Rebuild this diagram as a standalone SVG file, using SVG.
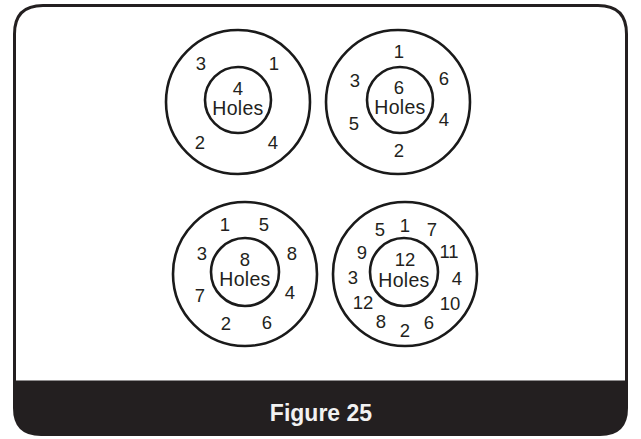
<svg xmlns="http://www.w3.org/2000/svg" width="641" height="439" viewBox="0 0 641 439">
<style>
.ring{fill:none;stroke:#1a1a1a;stroke-width:2.6}
.t{font-family:"Liberation Sans",Arial,sans-serif;font-size:18.5px;fill:#231f20;text-anchor:middle}
.h{font-size:19.5px;letter-spacing:0.3px}
.title{font-family:"Liberation Sans",Arial,sans-serif;font-size:23px;font-weight:bold;fill:#f2f2f2;text-anchor:middle}
</style>
<rect x="0" y="0" width="641" height="439" fill="#ffffff"/>
<g id="frame">
<path d="M14.5,382 V34 Q14.5,5.5 43,5.5 H598 Q626.5,5.5 626.5,34 V382 Z" fill="#ffffff" stroke="#231f20" stroke-width="3"/>
<path d="M13,382 H628 V408 Q628,436 600,436 H41 Q13,436 13,408 Z" fill="#231f20"/>
<text class="title" x="321" y="421">Figure 25</text>
</g>
<g id="c4">
<circle class="ring" cx="238" cy="102" r="72"/>
<circle class="ring" cx="238" cy="100" r="33"/>
<text class="t" x="201" y="70">3</text>
<text class="t" x="274" y="70">1</text>
<text class="t" x="238" y="94.5">4</text>
<text class="t h" x="238" y="114.5">Holes</text>
<text class="t" x="200" y="149">2</text>
<text class="t" x="273" y="149">4</text>
</g>
<g id="c6">
<circle class="ring" cx="398" cy="102" r="72"/>
<circle class="ring" cx="400" cy="100" r="33"/>
<text class="t" x="399" y="58">1</text>
<text class="t" x="355" y="87">3</text>
<text class="t" x="444" y="85">6</text>
<text class="t" x="399" y="94">6</text>
<text class="t h" x="400" y="114">Holes</text>
<text class="t" x="354" y="130">5</text>
<text class="t" x="444" y="126">4</text>
<text class="t" x="399" y="157">2</text>
</g>
<g id="c8">
<circle class="ring" cx="245" cy="274" r="72"/>
<circle class="ring" cx="245" cy="272" r="34"/>
<text class="t" x="225" y="231">1</text>
<text class="t" x="264" y="231">5</text>
<text class="t" x="202" y="260">3</text>
<text class="t" x="292" y="260">8</text>
<text class="t" x="245" y="266">8</text>
<text class="t h" x="245" y="286">Holes</text>
<text class="t" x="200" y="302">7</text>
<text class="t" x="290" y="299">4</text>
<text class="t" x="226" y="330">2</text>
<text class="t" x="267" y="329">6</text>
</g>
<g id="c12">
<circle class="ring" cx="405" cy="274" r="72"/>
<circle class="ring" cx="404" cy="272" r="34"/>
<text class="t" x="380" y="236">5</text>
<text class="t" x="405" y="232">1</text>
<text class="t" x="432" y="236">7</text>
<text class="t" x="362" y="259">9</text>
<text class="t" x="449" y="258">11</text>
<text class="t" x="405" y="266">12</text>
<text class="t h" x="404" y="287">Holes</text>
<text class="t" x="353" y="284">3</text>
<text class="t" x="457" y="285">4</text>
<text class="t" x="363" y="309">12</text>
<text class="t" x="450" y="310">10</text>
<text class="t" x="381" y="328">8</text>
<text class="t" x="405" y="337">2</text>
<text class="t" x="429" y="329">6</text>
</g>
</svg>
